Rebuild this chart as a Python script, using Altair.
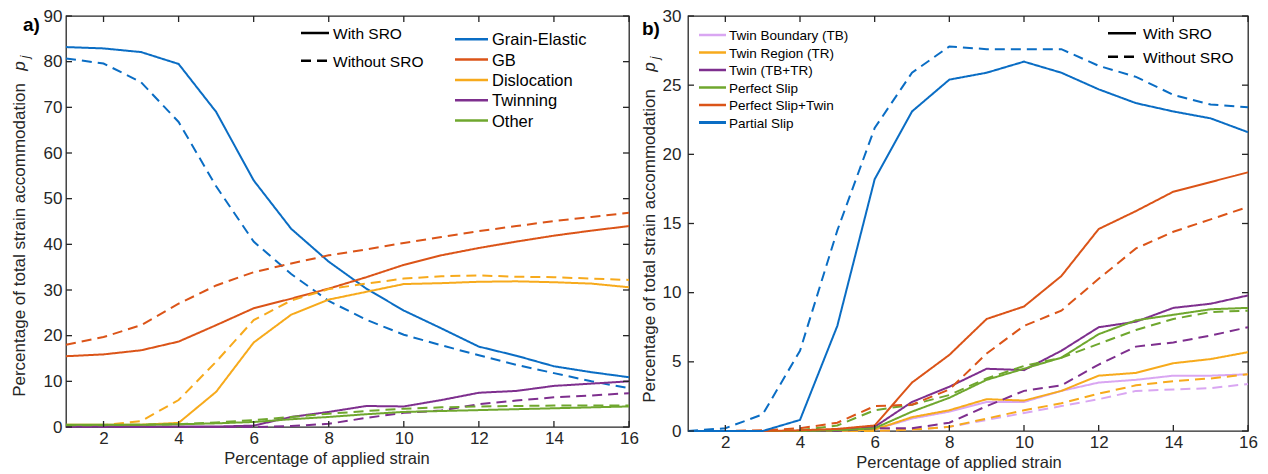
import altair as alt
import pandas as pd

# ---------------------------------------------------------------- data
strain = list(range(1, 17))
sro_levels = ["With SRO", "Without SRO"]
strain_ticks = [2, 4, 6, 8, 10, 12, 14, 16]

# (a) strain accommodation by mechanism
mechanisms_a = ["Grain-Elastic", "GB", "Dislocation", "Twinning", "Other"]
colors_a = ["#0A6DC4", "#DB5418", "#F7AA1C", "#7E2F8E", "#6FA72E"]
y_ticks_a = [0, 10, 20, 30, 40, 50, 60, 70, 80, 90]

grain_elastic_sro = [83.2, 82.9, 82.1, 79.5, 69.0, 54.0, 43.4, 36.2, 30.3, 25.5, 21.6, 17.6, 15.6, 13.3, 12.0, 10.9]
grain_elastic_nosro = [80.7, 79.6, 75.5, 66.8, 52.7, 40.6, 33.5, 27.6, 23.5, 20.2, 17.9, 15.7, 13.6, 11.8, 10.0, 8.5]
gb_sro = [15.5, 15.9, 16.8, 18.7, 22.3, 26.0, 28.1, 30.3, 32.8, 35.5, 37.6, 39.2, 40.6, 41.9, 43.0, 44.0]
gb_nosro = [18.0, 19.7, 22.3, 27.0, 31.0, 33.9, 35.8, 37.6, 38.9, 40.3, 41.6, 42.9, 44.0, 45.1, 46.0, 46.9]
dislocation_sro = [0.5, 0.5, 0.5, 0.9, 7.7, 18.5, 24.6, 27.9, 29.6, 31.3, 31.5, 31.8, 31.9, 31.7, 31.4, 30.6]
dislocation_nosro = [0.3, 0.4, 1.3, 5.9, 14.3, 23.4, 27.7, 30.2, 31.4, 32.5, 33.0, 33.2, 32.9, 32.8, 32.5, 32.2]
twinning_sro = [0.1, 0.1, 0.1, 0.1, 0.1, 0.3, 2.2, 3.3, 4.6, 4.5, 5.9, 7.5, 7.9, 9.0, 9.5, 10.0]
twinning_nosro = [0.0, 0.0, 0.0, 0.0, 0.0, 0.0, 0.2, 0.7, 2.0, 3.1, 3.6, 5.0, 5.8, 6.5, 6.9, 7.4]
other_sro = [0.5, 0.5, 0.5, 0.6, 0.8, 1.1, 1.7, 2.2, 2.8, 3.3, 3.5, 3.7, 3.9, 4.1, 4.3, 4.5]
other_nosro = [0.4, 0.4, 0.5, 0.6, 1.0, 1.5, 2.2, 2.9, 3.5, 4.0, 4.3, 4.5, 4.6, 4.7, 4.7, 4.7]

# (b) breakdown of the deformation modes
mechanisms_b = ["Twin Boundary (TB)", "Twin Region (TR)", "Twin (TB+TR)",
                "Perfect Slip", "Perfect Slip+Twin", "Partial Slip"]
colors_b = ["#D9A6F2", "#F7AA1C", "#7E2F8E", "#6FA72E", "#DB5418", "#0A6DC4"]
y_ticks_b = [0, 5, 10, 15, 20, 25, 30]

twin_boundary_sro = [0.0, 0.0, 0.0, 0.0, 0.0, 0.1, 0.9, 1.4, 2.1, 2.1, 2.9, 3.5, 3.7, 4.0, 4.0, 4.1]
twin_boundary_nosro = [0.0, 0.0, 0.0, 0.0, 0.0, 0.0, 0.1, 0.3, 0.8, 1.3, 1.8, 2.3, 2.9, 3.0, 3.1, 3.4]
twin_region_sro = [0.0, 0.0, 0.0, 0.0, 0.0, 0.1, 1.0, 1.5, 2.3, 2.2, 2.9, 4.0, 4.2, 4.9, 5.2, 5.7]
twin_region_nosro = [0.0, 0.0, 0.0, 0.0, 0.0, 0.0, 0.1, 0.3, 0.9, 1.5, 2.0, 2.7, 3.3, 3.6, 3.8, 4.1]
twin_sro = [0.0, 0.0, 0.0, 0.0, 0.05, 0.3, 2.1, 3.2, 4.5, 4.4, 5.8, 7.5, 7.9, 8.9, 9.2, 9.8]
twin_nosro = [0.0, 0.0, 0.0, 0.0, 0.0, 0.2, 0.2, 0.6, 1.8, 2.9, 3.3, 4.8, 6.1, 6.4, 6.9, 7.5]
perfect_slip_sro = [0.0, 0.0, 0.0, 0.0, 0.05, 0.2, 1.4, 2.4, 3.7, 4.5, 5.3, 7.0, 8.0, 8.4, 8.8, 8.9]
perfect_slip_nosro = [0.0, 0.0, 0.0, 0.05, 0.4, 1.5, 1.9, 2.6, 3.8, 4.7, 5.3, 6.3, 7.3, 8.1, 8.6, 8.7]
perfect_slip_twin_sro = [0.0, 0.0, 0.0, 0.05, 0.15, 0.4, 3.5, 5.5, 8.1, 9.0, 11.2, 14.6, 15.9, 17.3, 18.0, 18.7]
perfect_slip_twin_nosro = [0.0, 0.0, 0.05, 0.2, 0.6, 1.8, 1.9, 3.0, 5.6, 7.6, 8.7, 11.0, 13.2, 14.4, 15.3, 16.2]
partial_slip_sro = [0.0, 0.0, 0.0, 0.8, 7.6, 18.2, 23.1, 25.4, 25.9, 26.7, 25.9, 24.7, 23.7, 23.1, 22.6, 21.6]
partial_slip_nosro = [0.0, 0.2, 1.2, 5.8, 14.5, 21.9, 25.9, 27.8, 27.6, 27.6, 27.6, 26.4, 25.6, 24.3, 23.6, 23.4]

y_title = "Percentage of total strain accommodation"
x_title = "Percentage of applied strain"

AXIS = "#262626"
FONT = "Liberation Sans"


def to_long(series):
    rows = []
    for name, with_sro, without_sro in series:
        for level, values in zip(sro_levels, (with_sro, without_sro)):
            for s, v in zip(strain, values):
                rows.append({"strain": s, "value": v, "mechanism": name, "sro": level})
    return pd.DataFrame(rows)


df_a = to_long([
    ("Grain-Elastic", grain_elastic_sro, grain_elastic_nosro),
    ("GB", gb_sro, gb_nosro),
    ("Dislocation", dislocation_sro, dislocation_nosro),
    ("Twinning", twinning_sro, twinning_nosro),
    ("Other", other_sro, other_nosro),
])
df_b = to_long([
    ("Twin Boundary (TB)", twin_boundary_sro, twin_boundary_nosro),
    ("Twin Region (TR)", twin_region_sro, twin_region_nosro),
    ("Twin (TB+TR)", twin_sro, twin_nosro),
    ("Perfect Slip", perfect_slip_sro, perfect_slip_nosro),
    ("Perfect Slip+Twin", perfect_slip_twin_sro, perfect_slip_twin_nosro),
    ("Partial Slip", partial_slip_sro, partial_slip_nosro),
])

DASH = {"With SRO": [1, 0], "Without SRO": [10, 6]}


def text_layer(label, x, y, size, **kw):
    return alt.Chart(pd.DataFrame({"label": [label]})).mark_text(
        font=FONT, fontSize=size, color=kw.pop("color", "black"), **kw
    ).encode(text="label:N", x=alt.value(x), y=alt.value(y))


def panel(df, mechanisms, colors, y_ticks, y_max, w, h, y_pad, tag, lay):
    xs = alt.Scale(domain=[1, 16], nice=False, zero=False)
    ys = alt.Scale(domain=[0, y_max], nice=False)
    cs = alt.Scale(domain=mechanisms, range=colors)
    ds = alt.Scale(domain=sro_levels, range=[DASH[s] for s in sro_levels])
    x_axis = alt.Axis(values=strain_ticks, labelPadding=3)
    y_axis = alt.Axis(values=y_ticks, labelPadding=y_pad)

    lines = alt.Chart(df).mark_line(strokeWidth=2).encode(
        x=alt.X("strain:Q", scale=xs, title="", axis=x_axis),
        y=alt.Y("value:Q", scale=ys, title="", axis=y_axis),
        color=alt.Color("mechanism:N", scale=cs, legend=None),
        strokeDash=alt.StrokeDash("sro:N", scale=ds, legend=None),
    )

    # inward ticks on all four sides of the box
    tx = pd.DataFrame({"t": strain_ticks})
    ty = pd.DataFrame({"t": y_ticks})
    tick = dict(color=AXIS, strokeWidth=1.3)
    ticks = [
        alt.Chart(tx).mark_rule(**tick).encode(
            x=alt.X("t:Q", scale=xs, axis=x_axis, title=""), y=alt.value(h), y2=alt.value(h - 6)),
        alt.Chart(tx).mark_rule(**tick).encode(
            x=alt.X("t:Q", scale=xs, axis=x_axis, title=""), y=alt.value(0), y2=alt.value(6)),
        alt.Chart(ty).mark_rule(**tick).encode(
            y=alt.Y("t:Q", scale=ys, axis=y_axis, title=""), x=alt.value(0), x2=alt.value(6)),
        alt.Chart(ty).mark_rule(**tick).encode(
            y=alt.Y("t:Q", scale=ys, axis=y_axis, title=""), x=alt.value(w), x2=alt.value(w - 6)),
    ]

    # colour legend
    legend = []
    lx0, lx1, ltx, ly0, lstep, lsize = lay["color_legend"]
    for i, m in enumerate(mechanisms):
        y = ly0 + i * lstep
        width = 3 if m == "Partial Slip" else 2.5
        legend.append(
            alt.Chart(pd.DataFrame({"mechanism": [m]})).mark_rule(strokeWidth=width).encode(
                x=alt.value(lx0), x2=alt.value(lx1), y=alt.value(y),
                color=alt.Color("mechanism:N", scale=cs, legend=None)))
        legend.append(text_layer(m, ltx, y, lsize, align="left", baseline="middle", dy=1))

    # line-style legend
    sx0, sx1, stx, sy0, sstep = lay["style_legend"]
    for i, s in enumerate(sro_levels):
        y = sy0 + i * sstep
        legend.append(
            alt.Chart(pd.DataFrame({"sro": [s]})).mark_rule(
                strokeWidth=2.5, color="black", strokeDash=DASH[s]).encode(
                x=alt.value(sx0), x2=alt.value(sx1), y=alt.value(y)))
        legend.append(text_layer(s, stx, y, 15.5, align="left", baseline="middle", dy=1))

    # axis titles, symbol p_j and panel tag
    yx, ycy, py = lay["y_title"]
    labels = [
        text_layer(y_title, yx, ycy, 17, angle=270, align="center", baseline="middle", color=AXIS),
        text_layer("p", yx, py, 17, angle=270, align="center", baseline="middle",
                   fontStyle="italic", color=AXIS),
        text_layer("j", yx + 5, py - 9, 12, angle=270, align="center", baseline="middle",
                   fontStyle="italic", color=AXIS),
        text_layer(x_title, lay["x_title"], h + 37, 16.5, align="center",
                   baseline="alphabetic", color=AXIS),
        text_layer(tag, lay["tag"][0], lay["tag"][1], 19, align="left",
                   baseline="alphabetic", fontWeight="bold"),
    ]

    return alt.layer(lines, *ticks, *legend, *labels).properties(width=w, height=h)


panel_a = panel(
    df_a, mechanisms_a, colors_a, y_ticks_a, 90, 563, 411, 4, "a)",
    {
        "color_legend": (389, 422, 426, 23.3, 20.3, 16.5),
        "style_legend": (235, 263, 267, 17, 27.7),
        "y_title": (-46, 224, 50),
        "x_title": 261,
        "tag": (-43, 15),
    },
)
panel_b = panel(
    df_b, mechanisms_b, colors_b, y_ticks_b, 30, 560, 415, 7, "b)",
    {
        "color_legend": (11, 38, 41, 19, 17.5, 13.5),
        "style_legend": (420, 448, 455, 17.3, 23.4),
        "y_title": (-38, 230, 51),
        "x_title": 271,
        "tag": (-46, 19),
    },
)

chart = (
    alt.hconcat(panel_a, panel_b, spacing=59, bounds="flush")
    .resolve_scale(color="independent", strokeDash="independent")
    .properties(padding={"left": 10, "top": 6, "right": 5, "bottom": 0}, background="white")
    .configure_view(stroke=AXIS, strokeWidth=1.3)
    .configure_axis(
        domain=False, ticks=False, grid=False, labelFlush=False, labelOverlap=False,
        labelFont=FONT, labelFontSize=17, labelColor=AXIS,
    )
)

chart.save("out.html", embed_options={"renderer": "svg", "actions": False})
